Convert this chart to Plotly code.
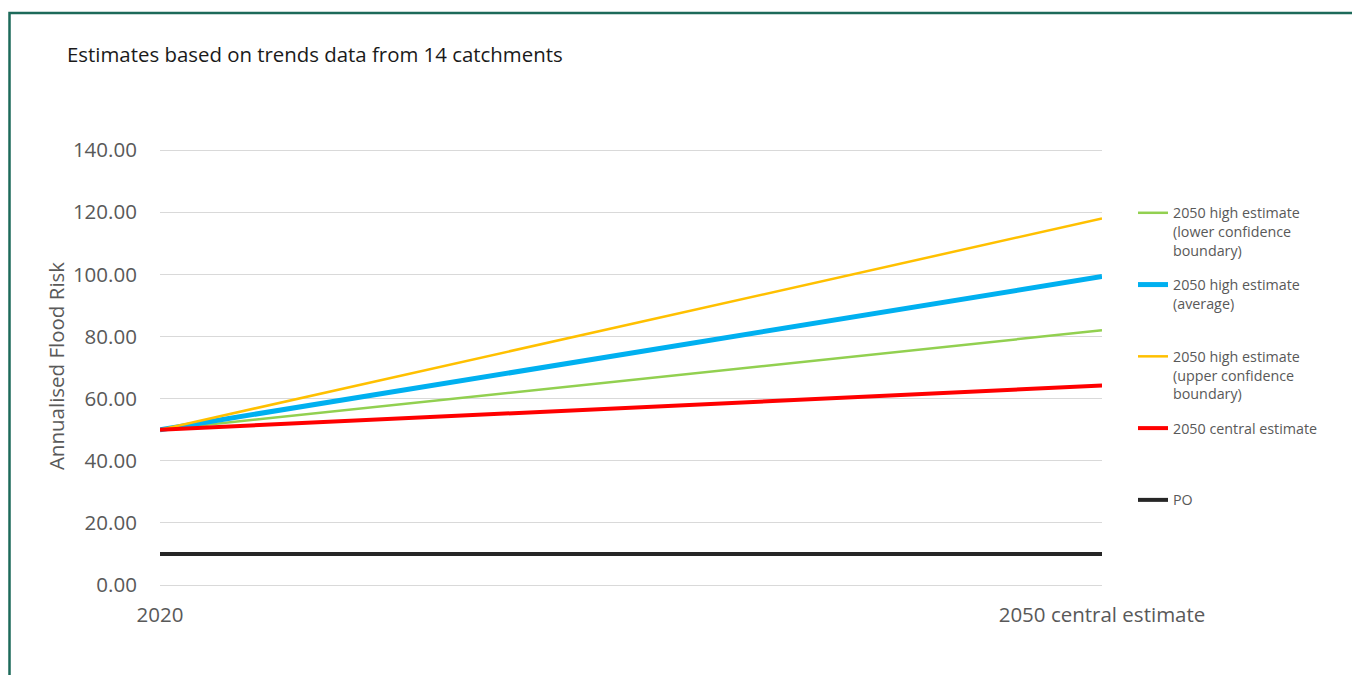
import plotly.graph_objects as go

categories = ["2020", "2050 central estimate"]
green_low = [50, 82]
blue_avg = [50, 99.3]
yellow_up = [50, 118]
red_central = [50, 64.2]
po = [10, 10]

names = [
    "2050 high estimate<br>(lower confidence<br>boundary)",
    "2050 high estimate<br>(average)<br>\u00a0",
    "2050 high estimate<br>(upper confidence<br>boundary)",
    "2050 central estimate<br>\u00a0<br>\u00a0",
    "PO<br>\u00a0<br>\u00a0",
]
series = [green_low, blue_avg, yellow_up, red_central, po]
colors = ["#92D050", "#00B0F0", "#FFC000", "#FF0000", "#262626"]
widths = [2.5, 5, 2.5, 4, 4]

OFF = 8  # page body offset
YMAX = 141.0
W, H = 1360 - OFF, 675 - OFF
B = 585 - OFF
T = round(B - (585 - 150) * YMAX / 140.0)
L, R = 160 - OFF, 1102 - OFF


def px_x(p):
    return (p - OFF - L) / (R - L)


def px_y(p):
    return (B - (p - OFF)) / (B - T)


fig = go.Figure()
for i, (nm, s, c, w) in enumerate(zip(names, series, colors, widths)):
    fig.add_trace(go.Scatter(
        x=categories, y=s, mode="lines", name=nm,
        line=dict(color=c, width=w), legendgroup=str(i),
    ))

fig.add_shape(type="path",
              path=f"M {px_x(9.5)},{px_y(700)} L {px_x(9.5)},{px_y(13)} L {px_x(1380)},{px_y(13)}",
              xref="paper", yref="paper", line=dict(color="#1D6A5A", width=2.5))

fig.update_layout(
    width=W, height=H,
    margin=dict(l=L, r=W - R, t=T, b=H - B, autoexpand=False),
    paper_bgcolor="white", plot_bgcolor="white",
    font=dict(family="Open Sans", color="#595959"),
    title=dict(text="Estimates based on trends data from 14 catchments",
               x=(67 - OFF) / W, xanchor="left", xref="container",
               y=1 - (55 - OFF) / H, yanchor="middle", yref="container",
               font=dict(size=20.4, color="#1a1a1a", family="Open Sans")),
    xaxis=dict(type="category", range=[0, 1], showgrid=False, zeroline=False,
               showline=False, tickfont=dict(size=20.5, color="#595959"),
               ticks="outside", ticklen=11, tickcolor="rgba(0,0,0,0)"),
    yaxis=dict(range=[0, YMAX], tickvals=[0, 20, 40, 60, 80, 100, 120, 140],
               tickformat=".2f",
               showgrid=True, gridcolor="#D9D9D9", gridwidth=1,
               zeroline=True, zerolinecolor="#D9D9D9", zerolinewidth=1,
               showline=False, tickfont=dict(size=20.5, color="#595959"),
               ticks="outside", ticklen=18, tickcolor="rgba(0,0,0,0)",
               title=dict(text="Annualised Flood Risk", standoff=2,
                          font=dict(size=20.5, color="#595959"))),
    legend=dict(x=px_x(1133), xanchor="left", y=px_y(197), yanchor="top",
                valign="top", font=dict(size=14.3, color="#595959"),
                tracegroupgap=13, bgcolor="rgba(0,0,0,0)"),
    showlegend=True,
)

fig.write_html("out.html")
